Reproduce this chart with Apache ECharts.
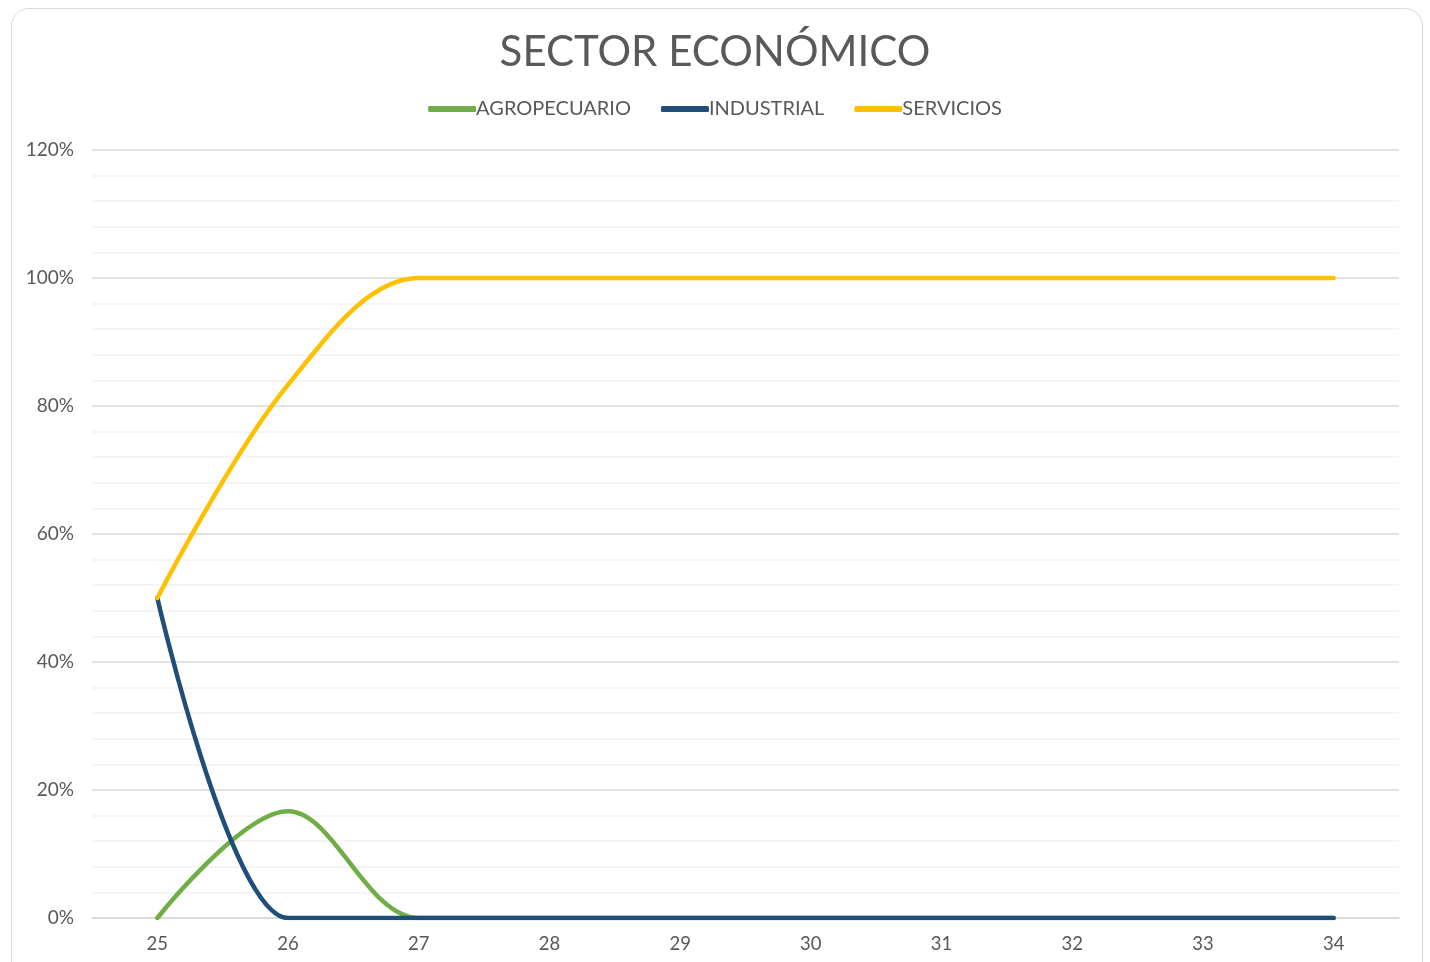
<!DOCTYPE html>
<html><head><meta charset="utf-8">
<script src="https://cdn.jsdelivr.net/npm/echarts@6/dist/echarts.min.js"></script>
<style>
html,body{margin:0;padding:0;background:#fff;overflow:hidden;}
#box{position:absolute;left:11px;top:8px;width:1412px;height:990px;border:1.5px solid #d9d9d9;border-radius:18px;box-sizing:border-box;}
#c{position:absolute;left:0;top:0;width:1430px;height:962px;}
</style></head>
<body>
<div id="box"></div>
<div id="c"></div>
<script>
const categories = ['25','26','27','28','29','30','31','32','33','34'];
const agropecuario = [0, 0.1667, 0, 0, 0, 0, 0, 0, 0, 0];
const industrial = [0.5, 0, 0, 0, 0, 0, 0, 0, 0, 0];
const servicios = [0.5, 0.8333, 1, 1, 1, 1, 1, 1, 1, 1];
const seriesNames = ['AGROPECUARIO','INDUSTRIAL','SERVICIOS'];
const colors = ['#70AD47','#1F4E79','#FFC000'];

const chart = echarts.init(document.getElementById('c'));
const font = 'Lato, "Noto Sans", sans-serif';
chart.setOption({
  animation:false,
  color: colors,
  title:{text:'SECTOR ECONÓMICO',left:'center',top:26,textStyle:{fontFamily:font,fontSize:42,fontWeight:'normal',color:'#595959'}},
  legend:{top:94,left:'center',itemWidth:48,itemHeight:6,itemGap:30,icon:'roundRect',
    textStyle:{fontFamily:font,fontSize:20,color:'#595959',padding:[0,0,0,-5]},data:seriesNames},
  grid:{left:92,right:31,top:150,bottom:44,containLabel:false},
  xAxis:{type:'category',data:categories,boundaryGap:true,
    axisLine:{lineStyle:{color:'#d9d9d9',width:1.5}},axisTick:{show:false},
    axisLabel:{fontFamily:font,fontSize:18.5,color:'#595959',margin:17}},
  yAxis:{type:'value',min:0,max:1.2,interval:0.2,
    axisLine:{show:false},axisTick:{show:false},
    axisLabel:{fontFamily:font,fontSize:19,color:'#595959',margin:18,formatter:v=>Math.round(v*100)+'%'},
    splitLine:{lineStyle:{color:'#d9d9d9',width:1.5}},
    minorTick:{show:false,splitNumber:5},
    minorSplitLine:{show:true,lineStyle:{color:'#f2f2f2',width:1.5}}},
  series:[
    {name:seriesNames[0],type:'line',data:agropecuario,smooth:0.35,showSymbol:false,symbol:'none',lineStyle:{width:4.5,cap:'round'},z:2},
    {name:seriesNames[1],type:'line',data:industrial,smooth:0.3,showSymbol:false,symbol:'none',lineStyle:{width:4.5,cap:'round'},z:3},
    {name:seriesNames[2],type:'line',data:servicios,smooth:0.35,showSymbol:false,symbol:'none',lineStyle:{width:4.5,cap:'round'},z:4}
  ]
});
</script>
</body></html>
